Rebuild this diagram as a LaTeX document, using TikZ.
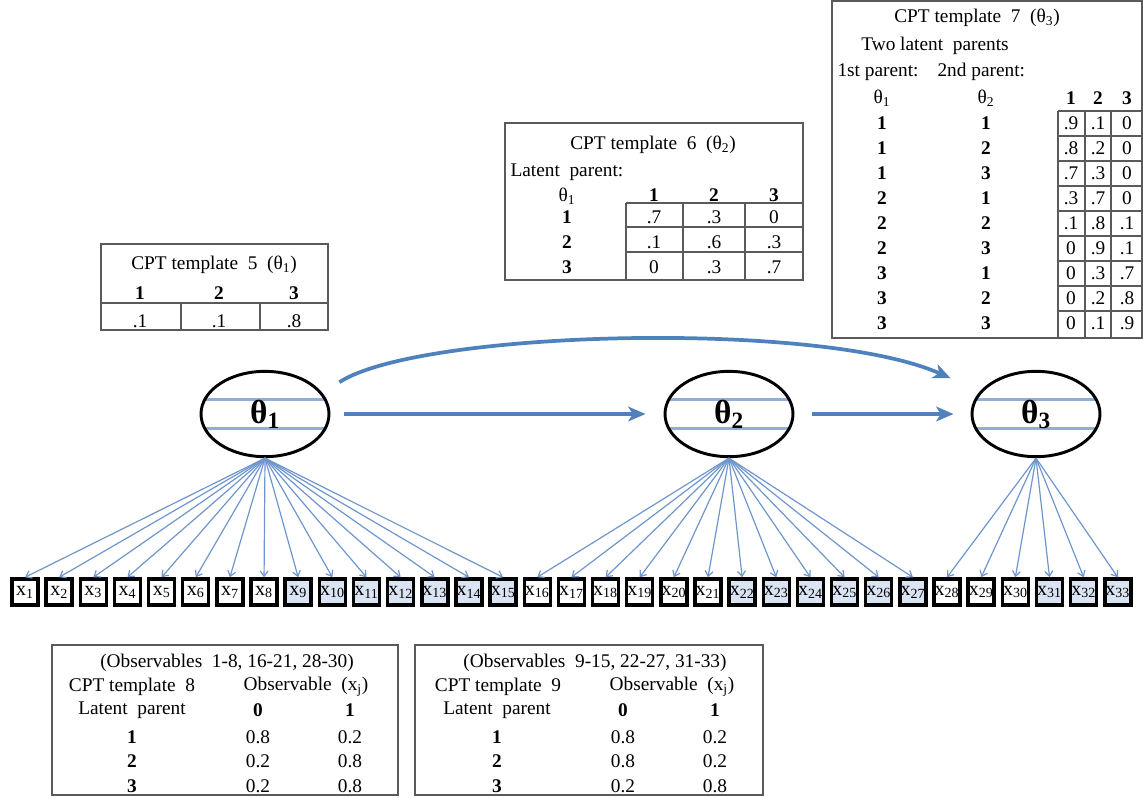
\documentclass[tikz,border=0pt]{standalone}
\usepackage{fontspec}
\setmainfont{Liberation Serif}
\usetikzlibrary{arrows.meta,shapes.geometric}

\definecolor{arrowblue}{RGB}{79,129,189}
\definecolor{fanblue}{RGB}{110,150,205}
\definecolor{stripeblue}{RGB}{145,175,212}
\definecolor{obsfill}{RGB}{218,228,242}
\definecolor{tblgray}{RGB}{90,90,90}

\tikzset{every picture/.style={line width=0.75pt}}

\begin{document}
\begin{tikzpicture}[x=0.75pt,y=0.75pt,yscale=-1,
  txt/.style={inner sep=0.75pt,font=\fontsize{14.5}{17}\selectfont},
  hd/.style={inner sep=0.75pt,font=\fontsize{14.5}{17}\selectfont\bfseries},
  tbl/.style={draw=tblgray,line width=1.1pt},
  latent/.style={ellipse,draw,line width=2.2pt,minimum width=96pt,minimum height=64pt,inner sep=0pt,
    font=\fontsize{25}{28}\selectfont\bfseries,
    path picture={\draw[stripeblue,line width=2pt]
      ([yshift=11pt]path picture bounding box.west) -- ([yshift=11pt]path picture bounding box.east)
      ([yshift=-11pt]path picture bounding box.west) -- ([yshift=-11pt]path picture bounding box.east);}},
  obs/.style={draw,line width=2.6pt,minimum size=19.5pt,inner sep=0pt,font=\fontsize{15}{16}\selectfont},
  fan/.style={fanblue,line width=0.9pt,-{Straight Barb[length=4pt,width=6pt]}},
  link/.style={arrowblue,line width=2.8pt,-{Stealth[length=13pt,width=11pt,inset=3.5pt]}}]
\useasboundingbox (0,0) rectangle (1143,797);

% latent nodes
\node[latent] (t1) at (265,414) {θ\textsubscript{1}};
\node[latent] (t2) at (729,414) {θ\textsubscript{2}};
\node[latent] (t3) at (1036,414) {θ\textsubscript{3}};

% observables
\foreach \i in {1,2,3,4,5,6,7,8,16,17,18,19,20,21,28,29,30}
  \node[obs,fill=white] (x\i) at ({25+(\i-1)*34.15},592) {x\textsubscript{\i}};
\foreach \i in {9,10,11,12,13,14,15,22,23,24,25,26,27,31,32,33}
  \node[obs,fill=obsfill] (x\i) at ({25+(\i-1)*34.15},592) {x\textsubscript{\i}};

% fans
\foreach \i in {1,...,15} \draw[fan] (t1.south) -- (x\i.north);
\foreach \i in {16,...,27} \draw[fan] (t2.south) -- (x\i.north);
\foreach \i in {28,...,33} \draw[fan] (t3.south) -- (x\i.north);

% latent links
\draw[link,shorten <=10.5pt,shorten >=13.5pt] (t1) -- (t2);
\draw[link,shorten <=13.5pt,shorten >=12.75pt] (t2) -- (t3);
\draw[link,shorten <=15pt,shorten >=24pt] (t1.20) .. controls (420,330) and (820,320) .. (t3.158);

% CPT template 5
\draw[tbl] (101,244) rectangle (328,330);
\draw[tbl] (101,303) -- (328,303) (181,303) -- (181,330) (260,303) -- (260,330);
\node[txt] (c5title) at (214,265) {CPT template~ 5~ (θ\textsubscript{1})};
\foreach \c/\h/\v [count=\k] in {140/1/.1, 219/2/.1, 294/3/.8}{
  \node[hd] (c5h\k) at (\c,293) {\h};
  \node[txt] (c5v\k) at (\c,321) {\v};
}

% CPT template 6
\draw[tbl] (505,123) rectangle (803,280);
\draw[tbl] (626,203) -- (803,203) (626,227) -- (803,227) (626,252) -- (803,252);
\draw[tbl] (626,203) -- (626,280) (683,203) -- (683,280) (745,203) -- (745,280);
\node[txt] (c6title) at (653,145) {CPT template~ 6~ (θ\textsubscript{2})};
\node[txt,anchor=west] (c6par) at (509,172) {Latent~ parent:};
\node[txt] (c6th) at (567,196) {θ\textsubscript{1}};
\foreach \c/\h [count=\k] in {654/1, 714/2, 774/3}
  \node[hd] (c6h\k) at (\c,195) {\h};
\foreach \r/\a/\b/\c [count=\k] in {1/.7/.3/0, 2/.1/.6/.3, 3/0/.3/.7}{
  \node[hd] (c6r\k) at (567,{217+(\k-1)*25}) {\r};
  \node[txt] (c6a\k) at (654,{217+(\k-1)*25}) {\a};
  \node[txt] (c6b\k) at (714,{217+(\k-1)*25}) {\b};
  \node[txt] (c6c\k) at (774,{217+(\k-1)*25}) {\c};
}

% CPT template 7
\draw[tbl] (832,1) rectangle (1142,338);
\foreach \y in {111,136,...,311} \draw[tbl] (1058,\y) -- (1142,\y);
\draw[tbl] (1058,111) -- (1058,338) (1085,111) -- (1085,338) (1111,111) -- (1111,338);
\node[txt] (c7title) at (977,18) {CPT template~ 7~ (θ\textsubscript{3})};
\node[txt] (c7two) at (935,46) {Two latent~ parents};
\node[txt,anchor=west] (c7p1) at (836,72) {1st parent:};
\node[txt,anchor=west] (c7p2) at (936,72) {2nd parent:};
\node[txt] (c7th1) at (882,98) {θ\textsubscript{1}};
\node[txt] (c7th2) at (986,98) {θ\textsubscript{2}};
\foreach \c/\h [count=\k] in {1071/1, 1098/2, 1127/3}
  \node[hd] (c7h\k) at (\c,98) {\h};
\foreach \p/\q/\a/\b/\c [count=\k] in {1/1/.9/.1/0, 1/2/.8/.2/0, 1/3/.7/.3/0,
    2/1/.3/.7/0, 2/2/.1/.8/.1, 2/3/0/.9/.1, 3/1/0/.3/.7, 3/2/0/.2/.8, 3/3/0/.1/.9}{
  \node[hd] (c7p\k) at (882,{123+(\k-1)*25}) {\p};
  \node[hd] (c7q\k) at (986,{123+(\k-1)*25}) {\q};
  \node[txt] (c7a\k) at (1071,{123+(\k-1)*25}) {\a};
  \node[txt] (c7b\k) at (1098,{123+(\k-1)*25}) {\b};
  \node[txt] (c7c\k) at (1127,{123+(\k-1)*25}) {\c};
}

% CPT template 8
\draw[tbl] (52,645) rectangle (398,795);
\node[txt] (c8title) at (227,663) {(Observables~ 1-8, 16-21, 28-30)};
\node[txt] (c8name) at (132,687) {CPT template~ 8};
\node[txt] (c8obs) at (306,687) {Observable~ (x\textsubscript{j})};
\node[txt] (c8par) at (132,710) {Latent~ parent};
\node[hd] (c8h0) at (258,710) {0};
\node[hd] (c8h1) at (350,710) {1};
\foreach \r/\a/\b [count=\k] in {1/0.8/0.2, 2/0.2/0.8, 3/0.2/0.8}{
  \node[hd] (c8r\k) at (132,{737+(\k-1)*24.5}) {\r};
  \node[txt] (c8a\k) at (258,{737+(\k-1)*24.5}) {\a};
  \node[txt] (c8b\k) at (350,{737+(\k-1)*24.5}) {\b};
}

% CPT template 9
\draw[tbl] (415,645) rectangle (763,795);
\node[txt] (c9title) at (595,663) {(Observables~ 9-15, 22-27, 31-33)};
\node[txt] (c9name) at (498,687) {CPT template~ 9};
\node[txt] (c9obs) at (672,687) {Observable~ (x\textsubscript{j})};
\node[txt] (c9par) at (497,710) {Latent~ parent};
\node[hd] (c9h0) at (623,710) {0};
\node[hd] (c9h1) at (715,710) {1};
\foreach \r/\a/\b [count=\k] in {1/0.8/0.2, 2/0.8/0.2, 3/0.2/0.8}{
  \node[hd] (c9r\k) at (497,{737+(\k-1)*24.5}) {\r};
  \node[txt] (c9a\k) at (623,{737+(\k-1)*24.5}) {\a};
  \node[txt] (c9b\k) at (715,{737+(\k-1)*24.5}) {\b};
}

\end{tikzpicture}
\end{document}
